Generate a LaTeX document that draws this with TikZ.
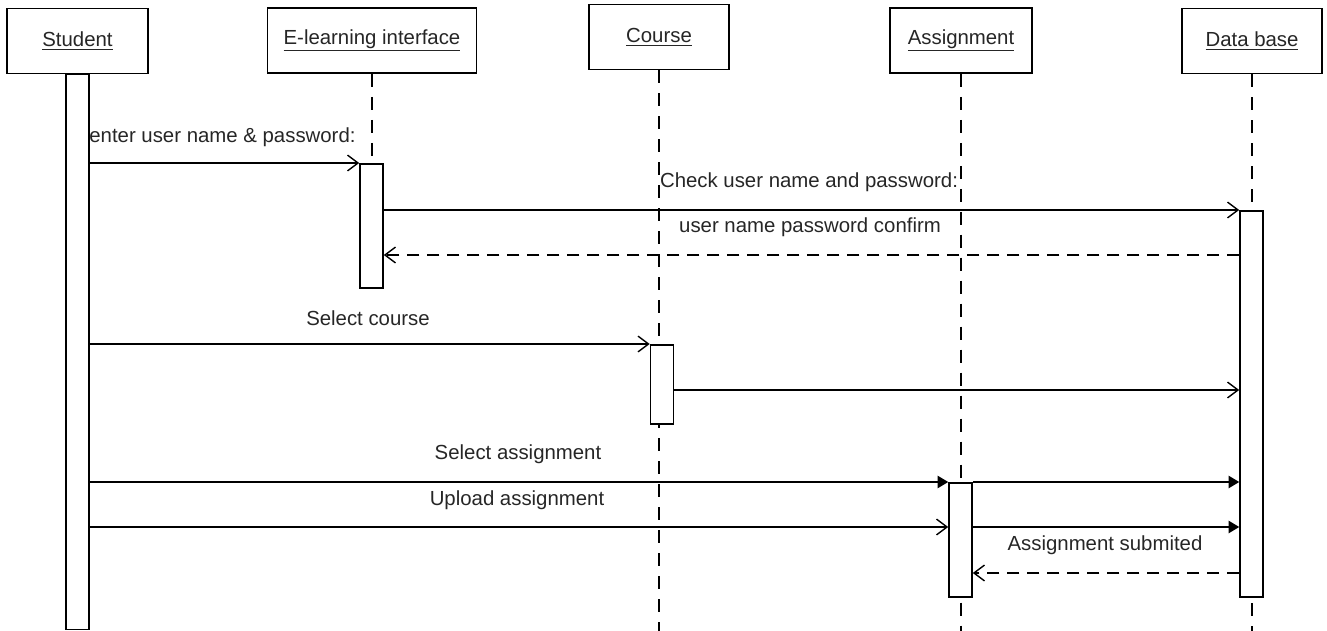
\documentclass[tikz,border=0pt]{standalone}
\usepackage{fontspec}
\setmainfont{Liberation Sans}
\usetikzlibrary{arrows.meta}

\begin{document}
\begin{tikzpicture}[x=0.02cm, y=-0.02cm,
		every node/.style={font=\fontsize{11.6}{14}\selectfont, text=black!85},
		actor/.style={draw, line width=0.9pt, fill=white, minimum height=1.3cm, inner sep=0pt},
		bar/.style={draw, line width=0.9pt, fill=white, minimum width=0.46cm, inner sep=0pt, anchor=north},
		lifeline/.style={line width=0.9pt, dash pattern=on 0.26cm off 0.2cm},
		msg/.style={line width=0.8pt, -{Straight Barb[length=6pt,width=9pt,line width=0.8pt]}},
		msgfill/.style={line width=0.8pt, -{Triangle[length=6pt,width=7pt]}},
		reply/.style={msg, dash pattern=on 0.24cm off 0.16cm}]
	\useasboundingbox (0,0) rectangle (1327,631);
	% objects
	\node [actor, minimum width=2.82cm] (sBox) at (77.5,41) {\underline{Student}};
	\node [actor, minimum width=4.18cm] (eBox) at (372,40.5) {\underline{E-learning interface}};
	\node [actor, minimum width=2.8cm] (cBox) at (659,37) {\underline{Course}};
	\node [actor, minimum width=2.84cm] (aBox) at (961,40.5) {\underline{Assignment}};
	\node [actor, minimum width=2.8cm] (dBox) at (1252,41) {\underline{Data base}};
	\draw [lifeline] (eBox.south) -- (eBox.south |- 0,163);
	\foreach \n in {cBox,aBox,dBox}
		\draw [lifeline] (\n.south) -- (\n.south |- 0,631);
	% activations
	\node [bar, minimum height=11.12cm] (sBar) at (77.5,73) {};
	\node [bar, minimum height=2.48cm] (eBar) at (371.5,163) {};
	\node [bar, minimum height=1.58cm] (cBar) at (662,344) {};
	\node [bar, minimum height=2.28cm] (aBar) at (960.5,482) {};
	\node [bar, minimum height=7.72cm] (dBar) at (1251.5,210) {};
	% messages
	\draw [msg] (sBar.east |- eBar.north) -- (eBar.north west);
	\node [anchor=west, inner sep=0pt] (m1) at (89,137) {enter user name \& password:};
	\draw [msg] (eBar.east |- dBar.north) -- (dBar.north west);
	\node (m2) at (809,182) {Check user name and password:};
	\draw [reply] (dBar.west |- 0,255) -- (eBar.east |- 0,255);
	\node (m3) at (810,227) {user name password confirm};
	\draw [msg] (sBar.east |- cBar.north) -- (cBar.north west);
	\node (m4) at (368,318) {Select course};
	\draw [msg] (cBar.east |- 0,390) -- (dBar.west |- 0,390);
	\draw [msgfill] (sBar.east |- aBar.north) -- (aBar.north west);
	\draw [msgfill] (aBar.north east) -- (dBar.west |- aBar.north);
	\node (m5) at (518,454) {Select assignment};
	\draw [msg] (sBar.east |- 0,527) -- (aBar.west |- 0,527);
	\draw [msgfill] (aBar.east |- 0,527) -- (dBar.west |- 0,527);
	\node (m6) at (517,500) {Upload assignment};
	\draw [reply] (dBar.west |- 0,573) -- (aBar.east |- 0,573);
	\node (m7) at (1105,545) {Assignment submited};
\end{tikzpicture}
\end{document}
